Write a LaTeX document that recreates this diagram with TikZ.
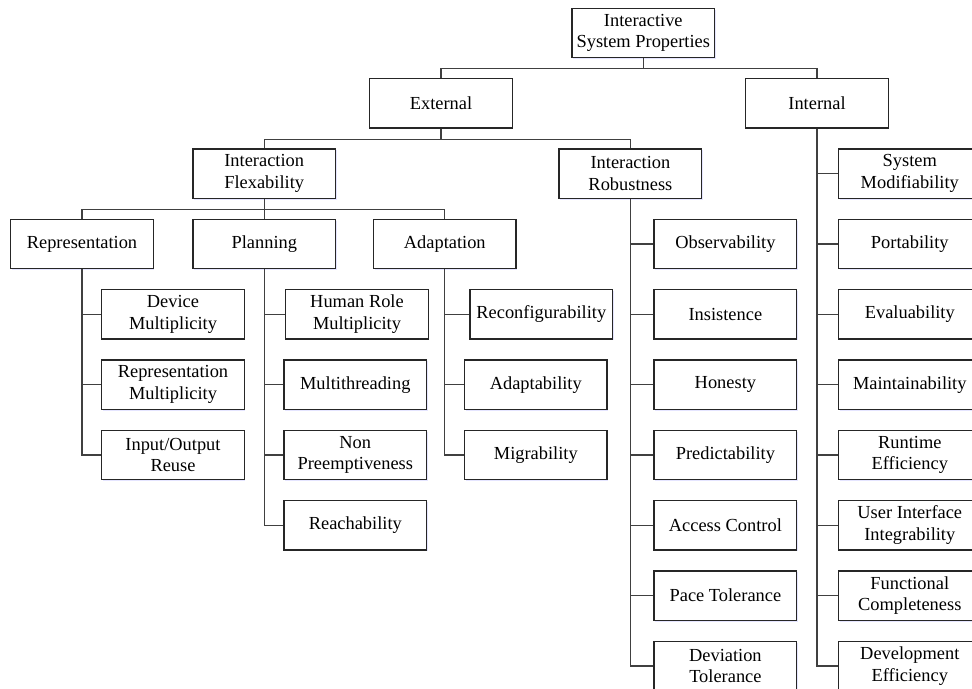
\documentclass[tikz,border=0pt]{standalone}
\usepackage{fontspec}
\setmainfont{Liberation Serif}
\usetikzlibrary{shadows}

\tikzset{
  prop/.style={draw=black!85, line width=1.05pt, fill=white,
    minimum width=107pt, minimum height=37pt, inner sep=2pt, align=center,
    font=\fontsize{13.8}{16.3}\selectfont,
    drop shadow={shadow xshift=0.8pt, shadow yshift=-1pt, fill=blue!20!white, opacity=0.5}},
  link/.style={draw=black!75, line width=0.9pt}
}

\begin{document}
\begin{tikzpicture}[x=0.75pt,y=-0.75pt]
                \clip (0,0) rectangle (972,689);
                \node[prop] (sys) at (643.3,33) {Interactive\\System Properties};
                \node[prop] (ext) at (441,103.3) {External};
                \node[prop] (int) at (817,103.3) {Internal};
                \node[prop] (flex) at (264.2,173.7) {Interaction\\Flexability};
                \node[prop] (rob) at (630.4,173.7) {Interaction\\Robustness};
                \node[prop] (rep) at (82,244) {Representation};
                \node[prop] (plan) at (264.3,244) {Planning};
                \node[prop] (adap) at (444.8,244) {Adaptation};
                \node[prop] (devm) at (173,314.3) {Device\\Multiplicity};
                \node[prop] (repm) at (173,384.7) {Representation\\Multiplicity};
                \node[prop] (iore) at (173,455) {Input/Output\\Reuse};
                \node[prop] (hrm) at (357,314.3) {Human Role\\Multiplicity};
                \node[prop] (mth) at (355.3,384.7) {Multithreading};
                \node[prop] (npre) at (355.3,455) {Non\\Preemptiveness};
                \node[prop] (reach) at (355.3,525.3) {Reachability};
                \node[prop] (recf) at (541.3,314.3) {Reconfigurability};
                \node[prop] (adpt) at (535.8,384.7) {Adaptability};
                \node[prop] (migr) at (535.8,455) {Migrability};
                \node[prop] (obs) at (725.4,244) {Observability};
                \node[prop] (ins) at (725.4,314.3) {Insistence};
                \node[prop] (hon) at (725.4,384.7) {Honesty};
                \node[prop] (pred) at (725.4,455) {Predictability};
                \node[prop] (acc) at (725.4,525.3) {Access Control};
                \node[prop] (pace) at (725.4,595.7) {Pace Tolerance};
                \node[prop] (dev) at (725.4,666) {Deviation\\Tolerance};
                \node[prop] (smod) at (909.8,173.7) {System\\Modifiability};
                \node[prop] (port) at (909.8,244) {Portability};
                \node[prop] (eval) at (909.8,314.3) {Evaluability};
                \node[prop] (main) at (909.8,384.7) {Maintainability};
                \node[prop] (rte) at (909.8,455) {Runtime\\Efficiency};
                \node[prop] (uii) at (909.8,525.3) {User Interface\\Integrability};
                \node[prop] (fcom) at (909.8,595.7) {Functional\\Completeness};
                \node[prop] (deve) at (909.8,666) {Development\\Efficiency};
                \draw[link] (sys.south) -- ++(0,10.5) -| (ext.north);
                \draw[link] (sys.south) -- ++(0,10.5) -| (int.north);
                \draw[link] (ext.south) -- ++(0,10.5) -| (flex.north);
                \draw[link] (ext.south) -- ++(0,10.5) -| (rob.north);
                \draw[link] (flex.south) -- ++(0,10.5) -| (rep.north);
                \draw[link] (flex.south) -- ++(0,10.5) -| (plan.north);
                \draw[link] (flex.south) -- ++(0,10.5) -| (adap.north);
                \foreach \c in {devm,repm,iore} \draw[link] (rep.south) |- (\c.west);
                \foreach \c in {hrm,mth,npre,reach} \draw[link] (plan.south) |- (\c.west);
                \foreach \c in {recf,adpt,migr} \draw[link] (adap.south) |- (\c.west);
                \foreach \c in {obs,ins,hon,pred,acc,pace,dev} \draw[link] (rob.south) |- (\c.west);
                \foreach \c in {smod,port,eval,main,rte,uii,fcom,deve} \draw[link] (int.south) |- (\c.west);
            \end{tikzpicture}
\end{document}
